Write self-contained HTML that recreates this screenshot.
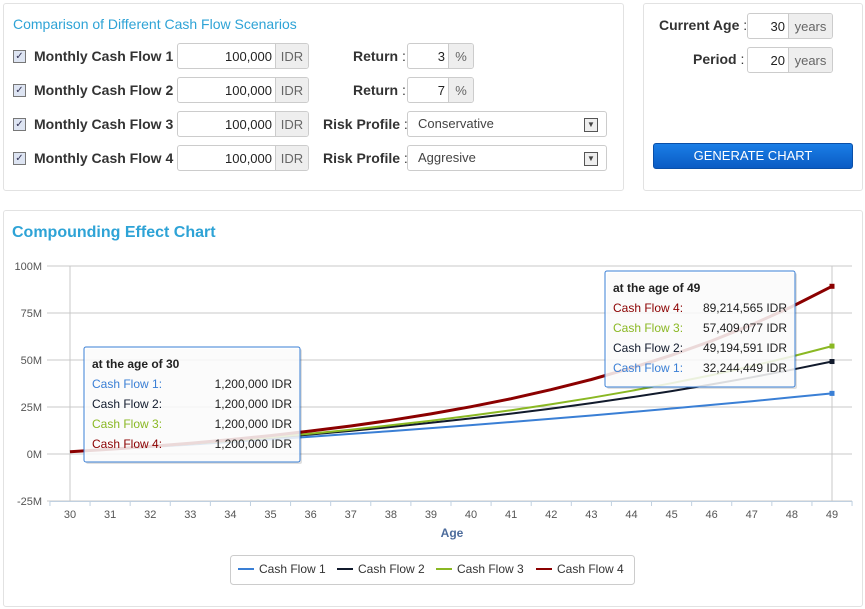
<!DOCTYPE html>
<html><head><meta charset="utf-8">
<style>
body{margin:0;width:865px;height:609px;background:#fff;font-family:"Liberation Sans Narrow","Liberation Sans",sans-serif;position:relative;overflow:hidden;color:#333}
.panel{position:absolute;border:1px solid #e2e2e2;border-radius:3px;background:#fff}
.abs{position:absolute}
.lbl{position:absolute;font-size:14px;font-weight:bold;color:#333;white-space:nowrap}
.cb{position:absolute;width:11px;height:11px;border:1px solid #777;background:#dde4f2;font-size:10px;line-height:11px;text-align:center;color:#335}
.inp{position:absolute;height:26px;border:1px solid #ccc;border-radius:3px;background:#fff;font-size:13px;line-height:26px;box-sizing:border-box;overflow:hidden}
.inp .v{position:absolute;right:0;top:0;text-align:right;padding-right:4px;color:#222}
.inp .u{position:absolute;right:0;top:0;height:24px;background:#eee;border-left:1px solid #ccc;color:#666;text-align:center}
.sel{position:absolute;height:26px;border:1px solid #ccc;border-radius:3px;background:#fff;font-size:13px;line-height:24px;box-sizing:border-box;padding-left:10px;color:#444}
.sel .ar{position:absolute;right:8px;top:6px;width:12px;height:12px;border:1px solid #555;background:#eee;font-size:8px;line-height:12px;text-align:center}
</style></head><body>
<div class="panel" style="left:3px;top:3px;width:619px;height:186px"></div>
<div class="abs" style="left:13px;top:16px;font-size:14px;color:#2ea3d6">Comparison of Different Cash Flow Scenarios</div>

<div class="cb" style="left:13px;top:50px">✓</div>
<div class="lbl" style="left:34px;top:48px">Monthly Cash Flow 1 <span style="font-weight:normal">:</span></div>
<div class="inp" style="left:177px;top:43px;width:132px"><span class="v" style="right:32px">100,000</span><span class="u" style="width:32px">IDR</span></div>
<div class="lbl" style="left:353px;top:48px">Return <span style="font-weight:normal">:</span></div>
<div class="inp" style="left:407px;top:43px;width:67px"><span class="v" style="right:24px">3</span><span class="u" style="width:24px">%</span></div>

<div class="cb" style="left:13px;top:84px">✓</div>
<div class="lbl" style="left:34px;top:82px">Monthly Cash Flow 2 <span style="font-weight:normal">:</span></div>
<div class="inp" style="left:177px;top:77px;width:132px"><span class="v" style="right:32px">100,000</span><span class="u" style="width:32px">IDR</span></div>
<div class="lbl" style="left:353px;top:82px">Return <span style="font-weight:normal">:</span></div>
<div class="inp" style="left:407px;top:77px;width:67px"><span class="v" style="right:24px">7</span><span class="u" style="width:24px">%</span></div>

<div class="cb" style="left:13px;top:118px">✓</div>
<div class="lbl" style="left:34px;top:116px">Monthly Cash Flow 3 <span style="font-weight:normal">:</span></div>
<div class="inp" style="left:177px;top:111px;width:132px"><span class="v" style="right:32px">100,000</span><span class="u" style="width:32px">IDR</span></div>
<div class="lbl" style="left:323px;top:116px">Risk Profile <span style="font-weight:normal">:</span></div>
<div class="sel" style="left:407px;top:111px;width:200px">Conservative<span class="ar">▼</span></div>

<div class="cb" style="left:13px;top:152px">✓</div>
<div class="lbl" style="left:34px;top:150px">Monthly Cash Flow 4 <span style="font-weight:normal">:</span></div>
<div class="inp" style="left:177px;top:145px;width:132px"><span class="v" style="right:32px">100,000</span><span class="u" style="width:32px">IDR</span></div>
<div class="lbl" style="left:323px;top:150px">Risk Profile <span style="font-weight:normal">:</span></div>
<div class="sel" style="left:407px;top:145px;width:200px">Aggresive<span class="ar">▼</span></div>

<div class="panel" style="left:643px;top:3px;width:218px;height:186px"></div>
<div class="lbl" style="left:659px;top:17px">Current Age <span style="font-weight:normal">:</span></div>
<div class="inp" style="left:747px;top:13px;width:86px"><span class="v" style="right:43px">30</span><span class="u" style="width:43px">years</span></div>
<div class="lbl" style="left:693px;top:51px">Period <span style="font-weight:normal">:</span></div>
<div class="inp" style="left:747px;top:47px;width:86px"><span class="v" style="right:43px">20</span><span class="u" style="width:43px">years</span></div>
<div class="abs" style="left:653px;top:143px;width:200px;height:26px;border-radius:3px;background:linear-gradient(#1a7ee6,#0a5bc4);border:1px solid #0a4fa8;color:#fff;font-size:13px;line-height:24px;text-align:center;box-sizing:border-box">GENERATE CHART</div>

<div class="panel" style="left:3px;top:210px;width:858px;height:395px"></div>
<div class="abs" style="left:12px;top:224px;font-family:'Liberation Sans',sans-serif;font-size:16px;font-weight:bold;color:#2ea3d6">Compounding Effect Chart</div>

<svg id="chart" class="abs" style="left:0;top:0" width="865" height="609" xmlns="http://www.w3.org/2000/svg" font-family="Liberation Sans, sans-serif"></svg>

<script>
const ages=[30,31,32,33,34,35,36,37,38,39,40,41,42,43,44,45,46,47,48,49];
const cf1=[1.2,2.44,3.71,5.02,6.37,7.76,9.20,10.67,12.19,13.76,15.37,17.03,18.74,20.50,22.32,24.19,26.11,28.10,30.14,32.24];
const cf2=[1.2,2.48,3.86,5.33,6.90,8.58,10.38,12.31,14.37,16.58,18.94,21.47,24.17,27.06,30.15,33.47,37.01,40.80,44.85,49.19];
const cf3=[1.2,2.50,3.91,5.44,7.10,8.89,10.84,12.95,15.24,17.72,20.41,23.32,26.48,29.91,33.62,37.64,41.99,46.73,51.86,57.41];
const cf4=[1.2,2.55,4.06,5.76,7.66,9.80,12.21,14.91,17.93,21.33,25.14,29.44,34.25,39.65,45.72,52.53,60.17,68.76,78.40,89.21];
const yTicks=[-25,0,25,50,75,100];
const yTickLabels=["-25M","0M","25M","50M","75M","100M"];
const seriesNames=["Cash Flow 1","Cash Flow 2","Cash Flow 3","Cash Flow 4"];
const seriesColors=["#3a7fd5","#111a2c","#8ab823","#8b0000"];
const startLabels=["1,200,000 IDR","1,200,000 IDR","1,200,000 IDR","1,200,000 IDR"];
const endLabels=["32,244,449 IDR","49,194,591 IDR","57,409,077 IDR","89,214,565 IDR"];

const svg=document.getElementById('chart');
const NS='http://www.w3.org/2000/svg';
const X0=70,X1=832,Y100=266,Y0=454;
function xs(i){return X0+(X1-X0)*i/(ages.length-1);}
function ys(v){return Y0-(Y0-Y100)*v/100;}
function mk(t,a,parent){const e=document.createElementNS(NS,t);for(const k in a)e.setAttribute(k,a[k]);(parent||svg).appendChild(e);return e;}

yTicks.forEach((v,i)=>{
  const g=mk('line',{x1:47,x2:852,y1:ys(v),y2:ys(v),stroke:'#c8c8c8','stroke-width':1});
  
  
  const t=mk('text',{x:42,y:ys(v)+4,'text-anchor':'end','font-size':11,fill:'#555'});
  t.textContent=yTickLabels[i];
  
  
});
const ax=mk('line',{x1:X0,x2:X0,y1:Y100,y2:501,stroke:'#c8c8c8'});


const ax2=mk('line',{x1:X1,x2:X1,y1:Y100,y2:501,stroke:'#c8c8c8'});


const xa=mk('line',{x1:50,x2:852,y1:501.5,y2:501.5,stroke:'#c0d0e0'});


const step=(X1-X0)/(ages.length-1);
for(let i=0;i<=ages.length;i++){
  const tx=X0-step/2+i*step;
  const tk=mk('line',{x1:tx,x2:tx,y1:501,y2:506,stroke:'#c0d0e0'});
  
  
}
ages.forEach((a,i)=>{
  const t=mk('text',{x:xs(i),y:518,'text-anchor':'middle','font-size':11,fill:'#555'});
  t.textContent=a;
  
  
});
const xt=mk('text',{x:452,y:537,'text-anchor':'middle','font-size':12,'font-weight':'bold',fill:'#4d6c9c'});
xt.textContent='Age';



const data=[cf1,cf2,cf3,cf4];
data.forEach((s,k)=>{
  const d=s.map((v,i)=>(i?'L':'M')+xs(i).toFixed(1)+' '+ys(v).toFixed(1)).join(' ');
  const p=mk('path',{d:d,fill:'none',stroke:seriesColors[k],'stroke-width':k===3?3:2});
  
  
  const last=s.length-1;
  const m=mk('rect',{x:xs(last)-2.5,y:ys(s[last])-2.5,width:5,height:5,fill:seriesColors[k]});
  
  
});

function tooltip(x,y,w,h,title,order,labels,name){
  const g=mk('g',{});
  
  
  mk('rect',{x:x+2,y:y+2,width:w,height:h,rx:2,fill:'rgba(0,0,0,0.12)'},g);
  mk('rect',{x:x,y:y,width:w,height:h,rx:2,fill:'rgba(255,255,255,0.85)',stroke:'#3a7fd5','stroke-width':1},g);
  const t=mk('text',{x:x+8,y:y+21,'font-size':12,'font-weight':'bold',fill:'#222'},g);
  t.textContent=title;
  order.forEach((k,j)=>{
    const a=mk('text',{x:x+8,y:y+41+j*20,'font-size':12,fill:seriesColors[k]},g);
    a.textContent=seriesNames[k]+':';
    const b=mk('text',{x:x+w-8,y:y+41+j*20,'font-size':12,fill:'#222','text-anchor':'end'},g);
    b.textContent=labels[k];
  });
}
tooltip(84,347,216,115,'at the age of 30',[0,1,2,3],startLabels,'tooltip-age-30');
tooltip(605,271,190,116,'at the age of 49',[3,2,1,0],endLabels,'tooltip-age-49');

const lg=mk('g',{});


mk('rect',{x:230.5,y:555.5,width:404,height:29,rx:3,fill:'#fff',stroke:'#ccc'},lg);
const lx=[238,337,436,536];
seriesNames.forEach((n,k)=>{
  const e=mk('g',{},lg);
  
  
  mk('line',{x1:lx[k],x2:lx[k]+16,y1:569,y2:569,stroke:seriesColors[k],'stroke-width':2},e);
  const t=mk('text',{x:lx[k]+21,y:573,'font-size':12,fill:'#333'},e);
  t.textContent=n;
});
</script>
</body></html>
